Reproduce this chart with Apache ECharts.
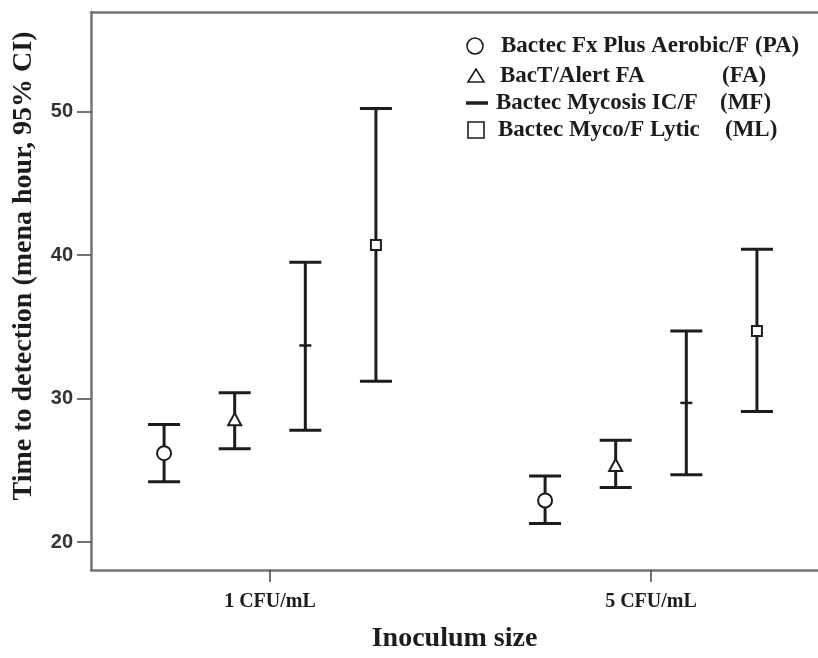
<!DOCTYPE html>
<html>
<head>
<meta charset="utf-8">
<script src="https://cdn.jsdelivr.net/npm/echarts@6/dist/echarts.min.js"></script>
<style>
  html, body { margin: 0; padding: 0; background: #fff; }
  #chart { width: 818px; height: 658px; }
</style>
</head>
<body>
<div id="chart"></div>
<script>
// categories on the x axis (placed at x = 1, 2)
const categories = ["1 CFU/mL", "5 CFU/mL"];
const xTicks = [1, 2];
const yTicks = [20, 30, 40, 50];

// mean and 95% CI per bottle type (hours)
const paMean = [26.2, 22.9], paLow = [24.2, 21.3], paHigh = [28.2, 24.6];
const faMean = [28.5, 25.3], faLow = [26.5, 23.8], faHigh = [30.4, 27.1];
const mfMean = [33.7, 29.7], mfLow = [27.8, 24.7], mfHigh = [39.5, 34.7];
const mlMean = [40.7, 34.7], mlLow = [31.2, 29.1], mlHigh = [50.2, 40.4];

const legendNames = [
  ["Bactec Fx Plus Aerobic/F", "(PA)"],
  ["BacT/Alert FA", "(FA)"],
  ["Bactec Mycosis IC/F", "(MF)"],
  ["Bactec Myco/F Lytic", "(ML)"]
];

const INK = "#1c1c1c";
const FRAME = "#747474";
const FONT_SERIF = '"Liberation Serif", "DejaVu Serif", serif';

// offset of each series from its category position (x units)
const offsets = [-0.278, -0.0927, 0.0927, 0.278];
const markers = ["circle", "triangle", "dash", "square"];

function rows(mean, low, high) {
  return mean.map((m, i) => [xTicks[i], m, low[i], high[i]]);
}

function markerShape(kind, x, y) {
  const st = { fill: "#fff", stroke: INK, lineWidth: 2 };
  if (kind === "circle") return { type: "circle", shape: { cx: x, cy: y, r: 7 }, style: st };
  if (kind === "triangle") return { type: "polygon", shape: { points: [[x, y - 7], [x - 6.5, y + 5], [x + 6.5, y + 5]] }, style: st };
  if (kind === "square") return { type: "rect", shape: { x: x - 5, y: y - 5, width: 10, height: 10 }, style: st };
  return { type: "line", shape: { x1: x - 6, y1: y, x2: x + 6, y2: y }, style: { stroke: INK, lineWidth: 2.5 } };
}

function makeRender(k) {
  return function (params, api) {
    const xv = api.value(0) + offsets[k];
    const pm = api.coord([xv, api.value(1)]);
    const pl = api.coord([xv, api.value(2)]);
    const ph = api.coord([xv, api.value(3)]);
    const x = pm[0];
    const half = 16;
    const ls = { stroke: INK, lineWidth: 3 };
    return {
      type: "group",
      children: [
        { type: "line", shape: { x1: x, y1: ph[1], x2: x, y2: pl[1] }, style: ls },
        { type: "line", shape: { x1: x - half, y1: ph[1], x2: x + half, y2: ph[1] }, style: ls },
        { type: "line", shape: { x1: x - half, y1: pl[1], x2: x + half, y2: pl[1] }, style: ls },
        markerShape(markers[k], x, pm[1])
      ]
    };
  };
}

const seriesData = [
  rows(paMean, paLow, paHigh),
  rows(faMean, faLow, faHigh),
  rows(mfMean, mfLow, mfHigh),
  rows(mlMean, mlLow, mlHigh)
];

// legend block, top right
const legendRowsY = [46, 76, 103, 130];
const legendTextX = [501, 500, 496, 498];
const legendAbbrX = [755, 722, 720, 725];
const legendFont = "bold 23px " + FONT_SERIF;
const legendGraphics = [];
legendNames.forEach((nm, i) => {
  const y = legendRowsY[i];
  let mk;
  if (i === 0) mk = { type: "circle", shape: { cx: 475, cy: y, r: 8 }, style: { fill: "#fff", stroke: INK, lineWidth: 1.6 } };
  if (i === 1) mk = { type: "polygon", shape: { points: [[476, y - 7], [468, y + 6], [484, y + 6]] }, style: { fill: "#fff", stroke: INK, lineWidth: 1.6 } };
  if (i === 2) mk = { type: "line", shape: { x1: 466, y1: y, x2: 488, y2: y }, style: { stroke: INK, lineWidth: 3.5 } };
  if (i === 3) mk = { type: "rect", shape: { x: 468, y: y - 8, width: 16, height: 16 }, style: { fill: "#fff", stroke: INK, lineWidth: 1.6 } };
  legendGraphics.push(mk);
  legendGraphics.push({
    type: "text", x: legendTextX[i], y: y,
    style: { text: nm[0], font: legendFont, fill: INK, textVerticalAlign: "middle" }
  });
  legendGraphics.push({
    type: "text", x: legendAbbrX[i], y: y,
    style: { text: nm[1], font: legendFont, fill: INK, textVerticalAlign: "middle" }
  });
});

const xMin = 0.5302, xMax = 2.4383;

const chart = echarts.init(document.getElementById("chart"), null, { renderer: "canvas" });
chart.setOption({
  animation: false,
  backgroundColor: "#fff",
  grid: { left: 91, right: 0, top: 12, bottom: 85 },
  xAxis: [
    {
      type: "value",
      min: xMin, max: xMax,
      name: "Inoculum size",
      nameLocation: "middle",
      nameGap: 55,
      nameTextStyle: { fontFamily: FONT_SERIF, fontWeight: "bold", fontSize: 28, color: INK },
      axisLine: { show: true, onZero: false, lineStyle: { color: FRAME, width: 2.5 } },
      axisTick: { show: true, length: 12, customValues: xTicks, lineStyle: { color: "#444", width: 1.5 } },
      axisLabel: {
        margin: 22, customValues: xTicks,
        formatter: (v) => categories[Math.round(v) - 1],
        fontFamily: FONT_SERIF, fontWeight: "bold", fontSize: 20, color: INK
      },
      splitLine: { show: false }
    },
    {
      type: "value",
      position: "top",
      min: xMin, max: xMax,
      axisLine: { show: true, onZero: false, lineStyle: { color: FRAME, width: 2.5 } },
      axisTick: { show: false },
      axisLabel: { show: false },
      splitLine: { show: false }
    }
  ],
  yAxis: {
    type: "value",
    min: 18.06,
    max: 56.93,
    axisLine: { show: true, onZero: false, lineStyle: { color: FRAME, width: 2.5 } },
    axisTick: { show: true, length: 14, customValues: yTicks, lineStyle: { color: "#444", width: 1.5 } },
    axisLabel: {
      margin: 18, customValues: yTicks,
      fontFamily: '"Liberation Sans", Arial, sans-serif', fontWeight: "bold", fontSize: 20, color: "#333"
    },
    splitLine: { show: false }
  },
  graphic: [
    {
      type: "text", x: 24, y: 266, rotation: Math.PI / 2,
      style: {
        text: "Time to detection (mena hour, 95% CI)",
        font: "bold 28px " + FONT_SERIF, fill: INK,
        textAlign: "center", textVerticalAlign: "middle"
      }
    }
  ].concat(legendGraphics),
  series: seriesData.map((d, k) => ({
    type: "custom",
    name: legendNames[k][0],
    renderItem: makeRender(k),
    encode: { x: 0, y: [1, 2, 3] },
    data: d,
    z: 3
  }))
});
</script>
</body>
</html>
